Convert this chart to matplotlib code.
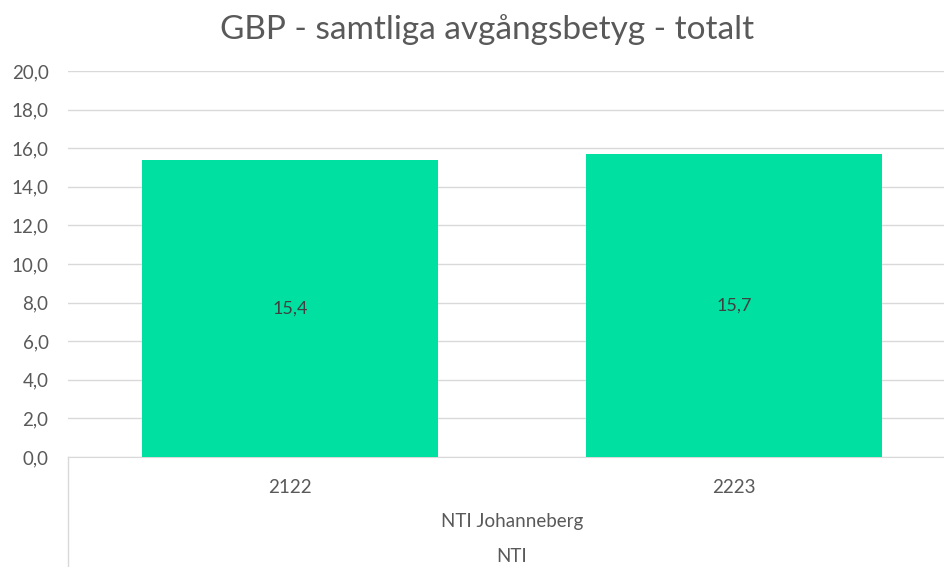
import matplotlib.pyplot as plt
import numpy as np

# Data
ar = ['2122', '2223']
betyg = [15.4, 15.7]
skola = 'NTI Johanneberg'
huvudman = 'NTI'

FARG = '#00E0A0'
TEXT = '#595959'
plt.rcParams['font.family'] = ['Lato', 'DejaVu Sans']

fig = plt.figure(figsize=(9.45, 5.67), dpi=100)
ax = fig.add_axes([68 / 945, 1 - 457 / 567, 888 / 945, (457 - 71) / 567])

x = np.arange(len(ar))
staplar = ax.bar(x, betyg, width=0.667, color=FARG, zorder=3)
for s, v in zip(staplar, betyg):
    ax.text(s.get_x() + s.get_width() / 2, v / 2, f'{v:.1f}'.replace('.', ','),
            ha='center', va='center', fontsize=13, color='#404040', zorder=4)

ax.set_xlim(-0.5, len(ar) - 0.5)
ax.set_ylim(0, 20)
ax.set_yticks(np.arange(0, 21, 2))
ax.set_yticklabels([f'{t:.1f}'.replace('.', ',') for t in np.arange(0, 21, 2)],
                   fontsize=13.5, color=TEXT)
ax.set_xticks(x)
ax.set_xticklabels(ar, fontsize=13.5, color=TEXT)
ax.tick_params(axis='both', length=0)
ax.tick_params(axis='x', pad=16)
ax.tick_params(axis='y', pad=14)

for sp in ['top', 'right', 'left']:
    ax.spines[sp].set_visible(False)
ax.spines['bottom'].set_color('#d9d9d9')
ax.yaxis.grid(True, color='#d9d9d9', linewidth=1)
ax.set_axisbelow(True)

# Kategorinivåer under axeln
ax.text(0.5, -65 / 386, skola, transform=ax.transAxes, ha='center', va='center',
        fontsize=13.5, color=TEXT)
ax.text(0.5, -99 / 386, huvudman, transform=ax.transAxes, ha='center', va='center',
        fontsize=13.5, color=TEXT)
for xp in [0, 1]:
    ax.plot([xp, xp], [0, -0.35], transform=ax.transAxes, color='#d9d9d9',
            linewidth=1, clip_on=False)

fig.text(487 / 945, 1 - 30 / 567, 'GBP - samtliga avgångsbetyg - totalt', ha='center',
         va='center', fontsize=24, color=TEXT)

fig.savefig('out.png', dpi=100)
